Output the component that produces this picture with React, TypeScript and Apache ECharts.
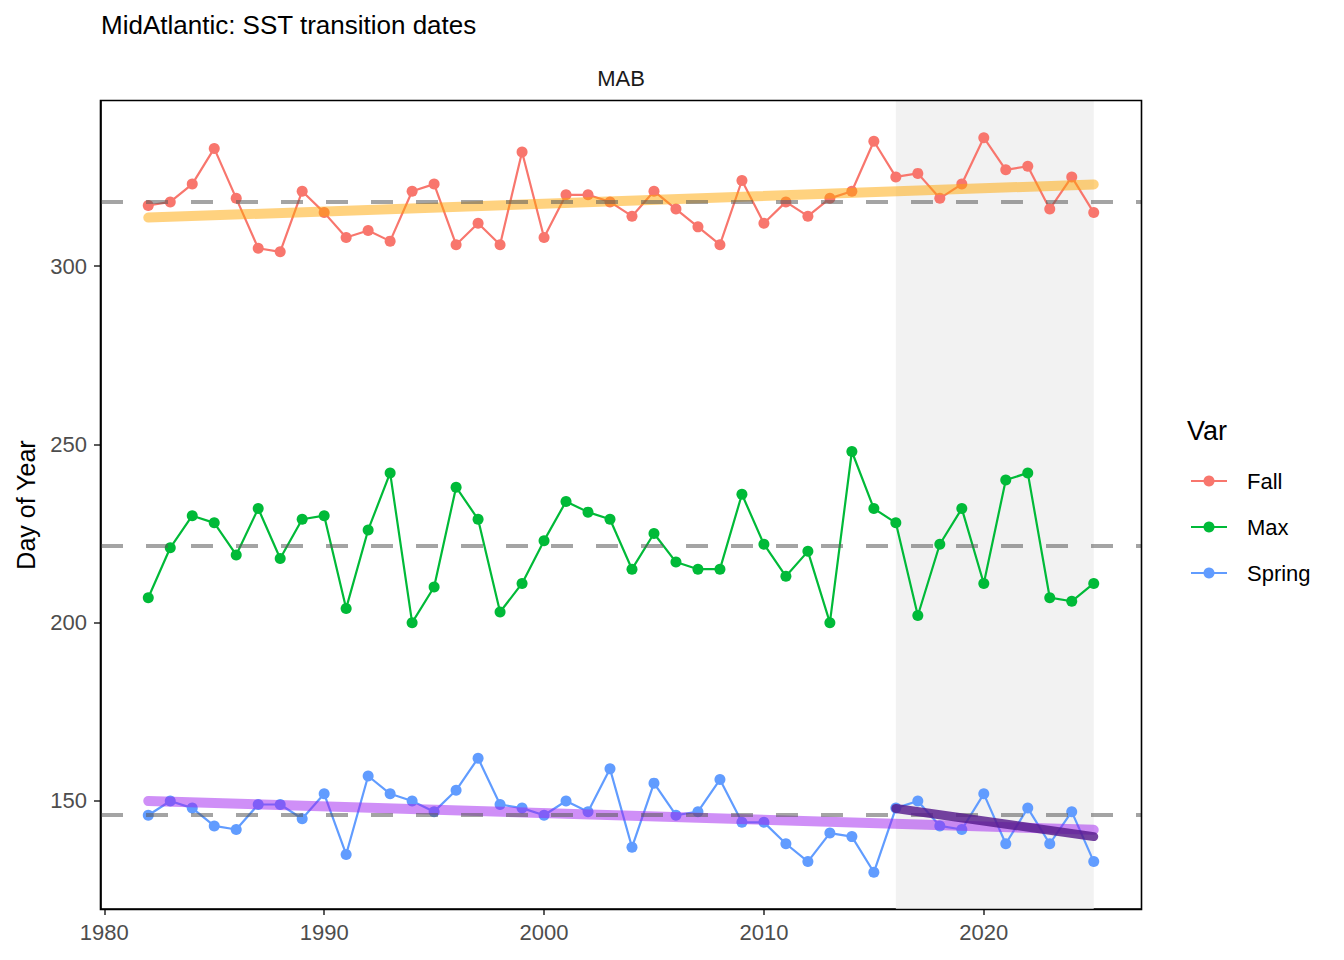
import React, { useEffect, useRef } from "react";
import * as echarts from "echarts";

// ---- data ----
const years = [
  1982, 1983, 1984, 1985, 1986, 1987, 1988, 1989, 1990, 1991, 1992, 1993, 1994, 1995, 1996,
  1997, 1998, 1999, 2000, 2001, 2002, 2003, 2004, 2005, 2006, 2007, 2008, 2009, 2010, 2011,
  2012, 2013, 2014, 2015, 2016, 2017, 2018, 2019, 2020, 2021, 2022, 2023, 2024, 2025,
];
const fallValues = [
  317, 318, 323, 333, 319, 305, 304, 321, 315, 308, 310, 307, 321, 323, 306,
  312, 306, 332, 308, 320, 320, 318, 314, 321, 316, 311, 306, 324, 312, 318,
  314, 319, 321, 335, 325, 326, 319, 323, 336, 327, 328, 316, 325, 315,
];
const maxValues = [
  207, 221, 230, 228, 219, 232, 218, 229, 230, 204, 226, 242, 200, 210, 238,
  229, 203, 211, 223, 234, 231, 229, 215, 225, 217, 215, 215, 236, 222, 213,
  220, 200, 248, 232, 228, 202, 222, 232, 211, 240, 242, 207, 206, 211,
];
const springValues = [
  146, 150, 148, 143, 142, 149, 149, 145, 152, 135, 157, 152, 150, 147, 153,
  162, 149, 148, 146, 150, 147, 159, 137, 155, 146, 147, 156, 144, 144, 138,
  133, 141, 140, 130, 148, 150, 143, 142, 152, 138, 148, 138, 147, 133,
];
const seriesNames = ["Fall", "Max", "Spring"];
const seriesColors = ["#F8766D", "#00BA38", "#619CFF"];
const meanValues = [318.1, 221.7, 146.0];
// trend line end points [year, value]
const fallTrend = [[1982, 313.6], [2025, 322.9]];
const springTrend = [[1982, 150.0], [2025, 141.9]];
const springRecentTrend = [[2016, 147.9], [2025, 140.0]];
const shadeRange = [2016, 2025];
const xTicks = [1980, 1990, 2000, 2010, 2020];
const yTicks = [150, 200, 250, 300];
const xRange = [1979.85, 2027.15];
const yRange = [119.7, 346.3];

const FONT = "'Liberation Sans', Arial, Helvetica, sans-serif";

export default function App() {
  const ref = useRef<HTMLDivElement>(null);
  useEffect(() => {
    if (!ref.current) return;
    const chart = echarts.init(ref.current, undefined, { renderer: "svg" });
    const gl = 101, gt = 101, gw = 1040, gh = 808;
    const valueSets = [fallValues, maxValues, springValues];

    const dataSeries = seriesNames.map((name, k) => ({
      name,
      type: "line",
      z: 3,
      data: years.map((y, i) => [y, valueSets[k][i]]),
      symbol: "circle",
      symbolSize: 11,
      showSymbol: true,
      lineStyle: { color: seriesColors[k], width: 2.2 },
      itemStyle: { color: seriesColors[k] },
      silent: true,
    }));

    const trend = (name: string, data: number[][], color: string, width: number, z: number) => ({
      name,
      type: "line",
      z,
      data,
      symbol: "none",
      lineStyle: { color, width, cap: "round" },
      silent: true,
    });

    const legendY = [481, 527, 573];
    const legendGraphics: any[] = [
      {
        type: "text",
        x: 1187,
        y: 431,
        style: { text: "Var", fontSize: 27, fontFamily: FONT, fill: "#000", align: "left", verticalAlign: "middle" },
      },
    ];
    seriesNames.forEach((name, k) => {
      legendGraphics.push(
        {
          type: "line",
          shape: { x1: 1191, y1: legendY[k], x2: 1227, y2: legendY[k] },
          style: { stroke: seriesColors[k], lineWidth: 2.2 },
        },
        {
          type: "circle",
          shape: { cx: 1209, cy: legendY[k], r: 5.5 },
          style: { fill: seriesColors[k] },
        },
        {
          type: "text",
          x: 1247,
          y: legendY[k],
          style: { text: name, fontSize: 22, fontFamily: FONT, fill: "#000", align: "left", verticalAlign: "middle" },
        }
      );
    });

    const option: any = {
      animation: false,
      grid: { left: gl, top: gt, width: gw, height: gh, containLabel: false, show: false },
      xAxis: {
        type: "value",
        min: xRange[0],
        max: xRange[1],
        splitLine: { show: false },
        axisLine: { show: true, onZero: false, lineStyle: { color: "#000", width: 1.6 } },
        axisTick: { show: true, customValues: xTicks, length: 6, lineStyle: { color: "#333", width: 1.6 } },
        axisLabel: {
          customValues: xTicks,
          formatter: (v: number) => String(v),
          fontSize: 22,
          color: "#4D4D4D",
          margin: 12,
          fontFamily: FONT,
        },
      },
      yAxis: {
        type: "value",
        min: yRange[0],
        max: yRange[1],
        splitLine: { show: false },
        axisLine: { show: true, onZero: false, lineStyle: { color: "#000", width: 1.6 } },
        axisTick: { show: true, customValues: yTicks, length: 7, lineStyle: { color: "#333", width: 1.6 } },
        axisLabel: {
          customValues: yTicks,
          formatter: (v: number) => String(v),
          fontSize: 22,
          color: "#4D4D4D",
          margin: 14,
          fontFamily: FONT,
        },
      },
      series: [
        {
          name: "shade",
          type: "line",
          z: 1,
          data: [],
          silent: true,
          markArea: {
            silent: true,
            itemStyle: { color: "#F2F2F2" },
            data: [[{ xAxis: shadeRange[0] }, { xAxis: shadeRange[1] }]],
          },
        },
        ...dataSeries,
        trend("Fall trend", fallTrend, "rgba(255,165,0,0.5)", 10, 4),
        trend("Spring trend", springTrend, "rgba(160,32,240,0.5)", 10, 4),
        trend("Spring recent trend", springRecentTrend, "rgba(85,26,139,0.82)", 9, 5),
        {
          name: "means",
          type: "line",
          z: 6,
          data: [],
          silent: true,
          markLine: {
            silent: true,
            symbol: ["none", "none"],
            label: { show: false },
            lineStyle: { color: "rgba(90,90,90,0.55)", width: 4, type: [22, 23] },
            data: meanValues.map((v) => ({ yAxis: v })),
          },
        },
      ],
      graphic: [
        {
          type: "text",
          x: 101,
          y: 25,
          style: {
            text: "MidAtlantic: SST transition dates",
            fontSize: 26,
            fontFamily: FONT,
            fill: "#000",
            align: "left",
            verticalAlign: "middle",
          },
        },
        {
          type: "text",
          x: 621,
          y: 78,
          style: { text: "MAB", fontSize: 22, fontFamily: FONT, fill: "#1A1A1A", align: "center", verticalAlign: "middle" },
        },
        {
          type: "text",
          x: 26,
          y: 505,
          rotation: Math.PI / 2,
          style: { text: "Day of Year", fontSize: 25, fontFamily: FONT, fill: "#000", align: "center", verticalAlign: "middle" },
        },
        {
          type: "rect",
          z: 100,
          shape: { x: 100.5, y: 100.5, width: 1041, height: 809 },
          style: { fill: "none", stroke: "#000", lineWidth: 1.6 },
          silent: true,
        },
        ...legendGraphics,
      ],
    };
    chart.setOption(option);
    return () => chart.dispose();
  }, []);
  return (
    <div
      ref={ref}
      style={{ position: "fixed", left: 0, top: 0, width: 1344, height: 960, background: "#fff" }}
    />
  );
}
